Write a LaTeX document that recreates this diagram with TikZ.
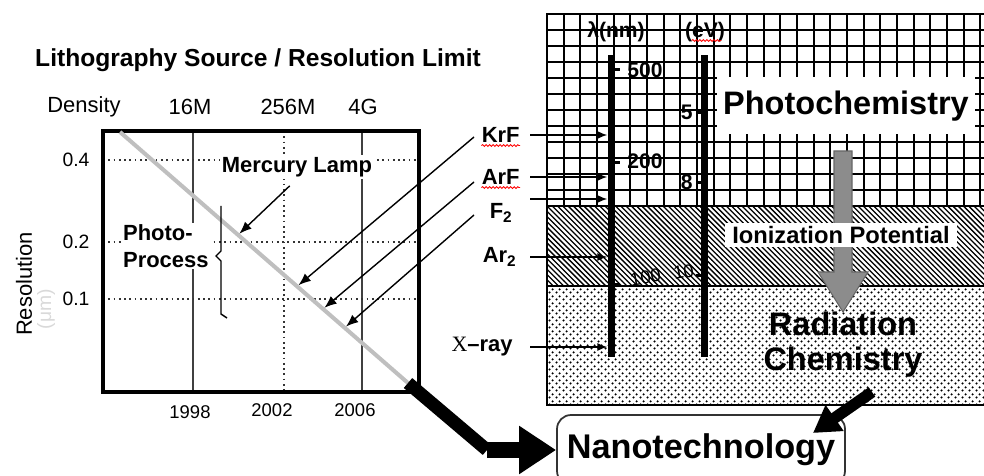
\documentclass[tikz,border=0pt]{standalone}
\usepackage{fontspec}
\setmainfont{Liberation Sans}
\newfontfamily\serifx{Liberation Serif}
\usetikzlibrary{arrows.meta, positioning, calc, patterns, decorations.pathmorphing}
\newlength{\pxl}
\setlength{\pxl}{0.02cm}
\pgfdeclarepatternformonly{hatchnw}{\pgfqpoint{-1pt}{-1pt}}{\pgfqpoint{4pt}{4pt}}{\pgfqpoint{3pt}{3pt}}{%
  \pgfsetlinewidth{0.75pt}%
  \pgfpathmoveto{\pgfqpoint{0pt}{3pt}}%
  \pgfpathlineto{\pgfqpoint{3.1pt}{-0.1pt}}%
  \pgfusepath{stroke}}
\pgfdeclarepatternformonly{dotfield}{\pgfqpoint{0pt}{0pt}}{\pgfqpoint{4pt}{4pt}}{\pgfqpoint{4pt}{4pt}}{%
  \pgfpathcircle{\pgfqpoint{1pt}{1pt}}{0.75pt}%
  \pgfpathcircle{\pgfqpoint{3pt}{3pt}}{0.75pt}%
  \pgfusepath{fill}}
\tikzset{
  headline/.style={font=\bfseries\fontsize{14}{17}\selectfont},
  axislabel/.style={font=\fontsize{12.5}{15}\selectfont, inner sep=0pt},
  ticklabel/.style={font=\fontsize{11}{13}\selectfont, inner sep=0pt},
  yearlabel/.style={font=\fontsize{10.5}{12}\selectfont, inner sep=0pt},
  callout/.style={font=\bfseries\fontsize{12.5}{15}\selectfont, fill=white, inner sep=1pt},
  source/.style={font=\bfseries\fontsize{12.5}{15}\selectfont, inner sep=0pt, anchor=east},
  scalelabel/.style={font=\bfseries\fontsize{12}{14}\selectfont, inner sep=0pt},
  banner/.style={fill=white, inner sep=0pt},
  bigword/.style={font=\bfseries\fontsize{18.5}{20}\selectfont},
  nanobox/.style={draw=black!80, line width=1pt, rounded corners=8pt, fill=white,
    font=\bfseries\fontsize{19.5}{22}\selectfont},
  bar/.style={fill=black, minimum width=7\pxl, inner sep=0pt},
  chartframe/.style={line width=2.3pt},
  thingrid/.style={line width=0.6pt, black!75},
  dotgrid/.style={line width=0.9pt, black!80, dash pattern=on 1pt off 2pt},
  trend/.style={line width=2.3pt, black!25},
  gridline/.style={line width=1.1pt},
  panel/.style={line width=0.8pt},
  nub/.style={line width=3\pxl},
  bracket/.style={line width=0.8pt},
  arrow/.style={-{Latex[length=5.5pt,width=4.5pt]}, line width=0.7pt},
  longarrow/.style={-{Latex[length=7pt,width=5.5pt]}, line width=0.8pt, shorten >=1pt},
  downarrow/.style={fill=black!45, draw=black!60, line width=0.6pt},
  fatline/.style={line width=7.4pt},
  fatarrow/.style={-{Triangle[length=21pt,width=26pt]}, line width=9.5pt},
  chemarrow/.style={-{Triangle[length=15pt,width=17pt]}, line width=6.5pt},
  spell/.style={red, line width=0.5pt, decorate,
    decoration={snake, amplitude=0.5pt, segment length=2pt}}
}
\begin{document}
\begin{tikzpicture}[x=0.02cm, y=-0.02cm]
  \useasboundingbox (0,0) rectangle (984,476);

  % lithography chart
  \node[headline] (head) at (258,60) {Lithography Source / Resolution Limit};
  \node[axislabel] (dens) at (84,107) {Density};
  \node[axislabel] (m16) at (190,107) {16M};
  \node[axislabel] (m256) at (288,107) {256M};
  \node[axislabel] (g4) at (363,107) {4G};

  \draw[thingrid] (193,131) -- (193,392);
  \draw[thingrid] (362,131) -- (362,392);
  \draw[dotgrid] (284,131) -- (284,392);
  \draw[dotgrid] (103,160) -- (419,160);
  \draw[dotgrid] (103,242) -- (419,242);
  \draw[dotgrid] (103,299) -- (419,299);
  \draw[chartframe] (103,131) rectangle (419,392);

  \node[ticklabel] (r04) at (76,160) {0.4};
  \node[ticklabel] (r02) at (76,242) {0.2};
  \node[ticklabel] (r01) at (76,299) {0.1};
  \node[axislabel, rotate=90] (res) at (24,284) {Resolution};
  \node[ticklabel, rotate=90, text=black!15] (unit) at (46,309) {(μm)};
  \node[yearlabel] (y98) at (190,412) {1998};
  \node[yearlabel] (y02) at (272,410) {2002};
  \node[yearlabel] (y06) at (355,410) {2006};

  \coordinate (dtop) at (120,132);
  \coordinate (dbot) at (408,383);
  \draw[trend] (dtop) -- (dbot)
    coordinate[pos=0.41] (hg) coordinate[pos=0.615] (hkrf)
    coordinate[pos=0.705] (harf) coordinate[pos=0.78] (hf2);

  \node[callout] (merc) at (297,167) {Mercury Lamp};
  \node[callout, align=left, anchor=west] (pproc) at (121,246) {Photo-\\Process};
  \draw[bracket] (221,206) -- (221,251) -- (216,256) -- (221,261) -- (221,314) -- (227,318);
  \draw[longarrow, shorten <=10\pxl] (merc.south) -- (hg);

  % energy panel
  \fill[pattern=hatchnw] (547,206) rectangle (990,286);
  \fill[pattern=dotfield] (547,286) rectangle (990,405);
  \foreach \gx in {0,...,26}
    \draw[gridline] ({547+16.67*\gx},14) -- ({547+16.67*\gx},206);
  \foreach \gy in {0,...,12}
    \draw[gridline] (547,{14+16*\gy}) -- (990,{14+16*\gy});
  \draw[panel] (547,14) rectangle (990,405);
  \draw[panel] (547,286) -- (990,286);

  \node[bar, minimum height=302\pxl] (lam) at (611,206) {};
  \node[bar, minimum height=302\pxl] (ev) at (704,206) {};
  \node[scalelabel] (lamhead) at (616,32) {λ(nm)};
  \node[scalelabel] (evhead) at (705,32) {(eV)};
  \draw[spell] ([xshift=7\pxl, yshift=-3\pxl]evhead.base west) -- ([xshift=-4\pxl, yshift=-3\pxl]evhead.base east);

  \foreach \ty in {70,163,285}
    \draw[nub] (614,\ty) -- (620,\ty);
  \foreach \ty in {113,183,276}
    \draw[nub] (701,\ty) -- (696,\ty);
  \node[scalelabel, anchor=west] (s500) at (627,70) {500};
  \node[scalelabel, anchor=west] (s200) at (627,161) {200};
  \node[scalelabel, anchor=west, rotate=10, font=\fontsize{10.5}{12}\selectfont] (s100) at (630,280) {100};
  \node[scalelabel, anchor=east] (s5) at (693,112) {5};
  \node[scalelabel, anchor=east] (s8) at (693,182) {8};
  \node[scalelabel, anchor=east, rotate=10, font=\fontsize{10.5}{12}\selectfont] (s10) at (694,270) {10};

  % light sources
  \node[source] (krf) at (520,135) {KrF};
  \node[source] (arf) at (520,177) {ArF};
  \node[source] (f2) at (513,213) {F\textsubscript{2}};
  \node[source] (ar2) at (517,257) {Ar\textsubscript{2}};
  \node[source] (xray) at (513,347) {{\serifx\mdseries X}--ray};
  \draw[spell] ([yshift=-3\pxl]krf.base west) -- ([yshift=-3\pxl]krf.base east);
  \draw[spell] ([yshift=-3\pxl]arf.base west) -- ([yshift=-3\pxl]arf.base east);

  \coordinate (f2in) at (530,199);
  \draw[arrow] ([xshift=10\pxl]krf.east) -- (krf.east -| lam.west);
  \draw[arrow] ([xshift=10\pxl]arf.east) -- (arf.east -| lam.west);
  \draw[arrow] (f2in) -- (f2in -| lam.west);
  \draw[arrow] ([xshift=13\pxl]ar2.east) -- (ar2.east -| lam.west);
  \draw[arrow] ([xshift=17\pxl]xray.east) -- (xray.east -| lam.west);

  \coordinate (kfoot) at (474,137);
  \coordinate (afoot) at (474,182);
  \coordinate (ffoot) at (474,215);
  \draw[longarrow] (kfoot) -- (hkrf);
  \draw[longarrow] (afoot) -- (harf);
  \draw[longarrow] (ffoot) -- (hf2);

  % chemistry regimes
  \coordinate (gtop) at (843,151);
  \coordinate (gtip) at (843,312);
  \filldraw[downarrow] ($(gtop)+(-9,0)$) -- ($(gtop)+(9,0)$) -- ($(gtip)+(9,-40)$)
    -- ($(gtip)+(25,-40)$) -- (gtip) -- ($(gtip)+(-25,-40)$) -- ($(gtip)+(-9,-40)$) -- cycle;
  \node[banner, font=\bfseries\fontsize{18.5}{20}\selectfont,
        minimum width=258\pxl, minimum height=57\pxl] (photochem) at (846,106) {Photochemistry};
  \node[banner, font=\bfseries\fontsize{13.5}{16}\selectfont,
        minimum width=232\pxl, minimum height=24\pxl] (ion) at (841,235) {Ionization Potential};
  \node[bigword, align=center] (radchem) at (843,345) {Radiation\\Chemistry};

  \node[nanobox, minimum width=288\pxl, minimum height=70\pxl] (nano) at (701,450) {Nanotechnology};

  \coordinate (bend) at (487,450);
  \draw[fatline] (dbot) -- (bend);
  \draw[fatarrow] (bend) -- (nano.west);
  \coordinate (radfoot) at (872,392);
  \coordinate (radtip) at (813,433);
  \draw[chemarrow] (radfoot) -- (radtip);
\end{tikzpicture}
\end{document}
